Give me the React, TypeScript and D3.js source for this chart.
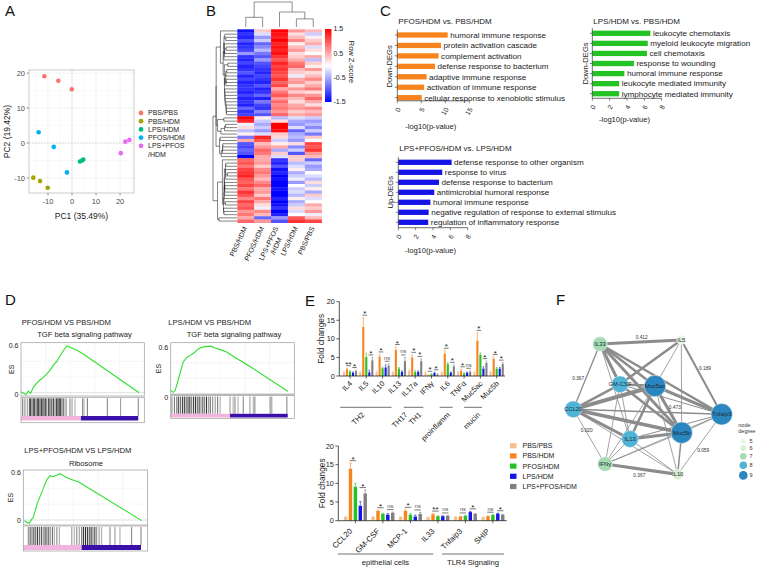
import React from "react";
import * as d3 from "d3";

const FONT = "'Liberation Sans', Arial, Helvetica, sans-serif";
const INK = "#1a1a1a";

/* ---------------- A: PCA ---------------- */
const pcaGroups = ["PBS/PBS", "PBS/HDM", "LPS/HDM", "PFOS/HDM", "LPS+PFOS/HDM"];
const pcaColors = ["#F8766D", "#A3A500", "#00BF7D", "#00B0F6", "#E76BF3"];
const pcaPC1 = [[-11.5, -5.7, -0.1], [-16.1, -13.3, -10.1], [3.3, 4.2, 4.7], [-13.9, -7.6, -2.1], [20.3, 22.2, 23.9]];
const pcaPC2 = [[19.1, 17.8, 15.4], [-9.9, -10.9, -12.8], [-5.3, -5.0, -4.7], [3.1, -1.1, -8.4], [-2.9, 0.4, 0.9]];
const pcaTicks = [-10, 0, 10, 20];
const pcaMinor = [-15, -5, 5, 15, 25];

/* ---------------- B: heatmap ---------------- */
const heatCols = ["PBS/HDM", "PFOS/HDM", "LPS+PFOS/HDM", "LPS/HDM", "PBS/PBS"];
const heatRows = [
  [-1.4, 0.3, 1.5, 0.6, 0.4], [-1.2, -0.2, 1.4, 0.2, -0.3], [-1.3, -0.6, 1.3, 0.4, 0.1], [-1.0, -0.3, 1.5, 0.7, 0.3],
  [-1.3, -0.9, 1.3, 0.1, 0.5], [-1.2, -0.7, 1.4, 0.4, -0.2], [-1.1, -0.4, 1.3, 0.6, 0.2], [-0.6, -0.8, 1.4, 0.2, 0.0],
  [-1.2, -1.0, 1.2, 0.3, 0.5], [-1.3, -0.6, 1.0, 0.5, -0.4], [-1.1, -1.0, 1.3, 0.8, 0.3], [-1.3, -1.1, 1.1, 0.9, 0.1],
  [-1.2, -1.2, 1.2, 0.4, 0.6], [-1.0, -1.3, 1.1, 0.3, 0.2], [-1.3, -1.1, 1.0, -0.1, 0.4], [-1.1, -1.2, 1.2, 0.5, 0.7],
  [-1.3, -1.3, 0.9, 0.6, 0.3], [-1.2, -1.0, 1.1, 0.2, 0.5], [-1.2, -1.3, 0.5, 0.6, 0.8], [-1.3, -1.2, 0.8, 0.3, 0.2],
  [-1.1, -0.9, 1.0, 0.7, 0.6], [-1.3, -1.3, 0.6, 0.4, 0.9], [-1.2, -0.8, 0.9, 0.2, 0.5], [-1.3, -1.1, 0.7, 0.5, 0.2],
  [-0.9, -1.2, 0.8, 0.6, 0.7], [-1.2, -0.7, 0.6, 0.3, 0.4], [-1.1, -1.0, 0.9, 0.5, 0.6],
  [1.5, 0.1, -0.4, -0.2, -0.3], [1.3, -0.3, 0.2, -0.5, -0.6],
  [-0.1, -0.5, 1.5, -0.6, -0.4], [0.2, -0.3, 1.5, -0.2, -0.7], [-0.4, -0.6, 1.4, -0.9, -0.3], [0.1, -0.2, 0.3, -0.5, -0.8],
  [-0.8, 1.3, 0.2, -0.4, 0.3], [0.5, 1.0, -0.3, -0.6, 0.0], [-1.0, 0.4, 0.1, 0.2, 1.1], [-1.1, 0.6, 0.5, -0.7, 1.0],
  [-0.9, 0.9, -0.5, -0.3, 1.2], [-1.0, 0.8, 0.3, -1.0, 0.6], [-1.5, 0.5, -0.2, 0.3, 0.4],
  [0.9, 0.5, -1.2, 0.3, -0.9], [1.0, 0.6, -1.3, -0.4, -0.3], [0.8, 0.3, -1.0, -0.2, -0.6], [1.1, 0.7, -1.4, 0.1, -0.5],
  [1.2, 0.8, -1.3, -0.5, 0.0], [1.3, 0.6, -1.5, -0.3, -0.2], [1.0, 0.4, -1.4, -0.1, -0.4], [0.9, 0.7, -1.5, -0.6, 0.2],
  [1.1, 0.9, -1.5, 0.0, -0.3], [0.8, 0.5, -1.4, -0.3, 0.1], [1.2, 0.6, -1.5, -0.2, -0.5], [1.0, 0.3, -1.5, -0.4, 0.3],
  [0.7, 0.8, -1.3, 0.1, -0.2], [1.1, 0.5, -1.5, -0.5, 0.0], [0.9, 0.2, -1.4, -0.3, 0.5], [1.0, -0.1, -1.2, 0.2, 0.3],
  [0.6, 0.7, -1.5, -0.2, 0.6], [0.8, 0.4, -1.3, 0.0, -0.1], [0.5, -0.9, -0.6, 1.0, 0.4], [0.9, 0.6, -1.0, 1.2, 1.1],
];
const colTree: any = { h: 4.0, children: [{ h: 1.55, children: ["PBS/HDM", "PFOS/HDM"] }, { h: 2.4, children: ["LPS+PFOS/HDM", { h: 1.3, children: ["LPS/HDM", "PBS/PBS"] }] }] };
const zTicks = [1.5, 0.5, -0.5, -1.5];

/* ---------------- C: GO bars ---------------- */
const goC1Terms = ["humoral immune response", "protein activation cascade", "complement activation", "defense response to bacterium", "adaptive immune response", "activation of immune response", "cellular response to xenobiotic stimulus"];
const goC1Values = [10.5, 9.1, 8.6, 7.85, 6.1, 5.6, 5.1];
const goC1Ticks = [0, 5, 10, 15];
const goC2Terms = ["leukocyte chemotaxis", "myeloid leukocyte migration", "cell chemotaxis", "response to wounding", "humoral immune response", "leukocyte mediated immunity", "lymphocyte mediated immunity"];
const goC2Values = [6.7, 6.4, 6.3, 4.8, 3.7, 3.1, 3.1];
const goC3Terms = ["defense response to other organism", "response to virus", "defense response to bacterium", "antimicrobial humoral response", "humoral immune response", "negative regulation of response to external stimulus", "regulation of inflammatory response"];
const goC3Values = [6.15, 5.07, 4.7, 4.15, 3.7, 3.5, 3.45];
const goSmallTicks = [0, 2, 4, 6, 8];

/* ---------------- D: GSEA ---------------- */
const gsea1F = [0, 0.024, 0.041, 0.059, 0.078, 0.1, 0.127, 0.154, 0.181, 0.208, 0.235, 0.262, 0.289, 0.316, 0.343, 0.37, 0.411, 0.451, 0.505, 0.959];
const gsea1ES = [0.013, -0.009, -0.026, 0.021, -0.009, 0.068, 0.119, 0.162, 0.196, 0.238, 0.289, 0.349, 0.396, 0.468, 0.536, 0.596, 0.57, 0.545, 0.494, 0.0];
const gsea1Hits = [0.014, 0.032, 0.051, 0.068, 0.078, 0.089, 0.1, 0.111, 0.122, 0.132, 0.143, 0.154, 0.165, 0.176, 0.186, 0.197, 0.208, 0.222, 0.235, 0.249, 0.262, 0.276, 0.289, 0.3, 0.311, 0.322, 0.332, 0.343, 0.357, 0.37, 0.397, 0.414, 0.438, 0.5, 0.511, 0.538, 0.7, 0.808, 0.951];
const gsea1Shade = [0.6, 0.5, 0.4, 0.7, 0.9, 0.6, 0.8, 0.9, 0.5, 0.85, 0.9, 0.7, 0.95, 0.6, 0.8, 0.9, 0.5, 0.85, 0.9, 0.7, 0.95, 0.6, 0.9, 1, 0.8, 0.95, 0.5, 0.7, 0.4, 0.3, 0.5, 0.4, 0.3, 0.5, 0.3, 0.6, 0.5, 0.4, 0.5];
const gsea2F = [0, 0.021, 0.035, 0.049, 0.075, 0.102, 0.129, 0.156, 0.183, 0.21, 0.237, 0.264, 0.304, 0.326, 0.358, 0.399, 0.453, 0.534, 0.642, 0.947];
const gsea2ES = [0.04, 0.015, 0.035, 0.11, 0.26, 0.41, 0.465, 0.495, 0.52, 0.56, 0.59, 0.605, 0.612, 0.615, 0.59, 0.57, 0.54, 0.455, 0.35, 0.03];
const gsea2Hits = [0.01, 0.03, 0.05, 0.065, 0.08, 0.095, 0.11, 0.125, 0.14, 0.155, 0.17, 0.185, 0.2, 0.215, 0.23, 0.245, 0.26, 0.275, 0.29, 0.305, 0.32, 0.34, 0.36, 0.38, 0.4, 0.48, 0.505, 0.52, 0.545, 0.587, 0.641, 0.668, 0.681, 0.804, 0.818, 0.94];
const gsea2Shade = [0.5, 0.6, 0.7, 0.9, 0.6, 0.85, 0.95, 0.7, 0.9, 1, 0.6, 0.85, 0.95, 0.7, 0.9, 0.5, 0.8, 0.6, 0.9, 0.4, 0.7, 0.5, 0.4, 0.6, 0.3, 0.4, 0.3, 0.5, 0.3, 0.5, 0.4, 0.3, 0.5, 0.5, 0.4, 0.5];
const gsea3F = [0.008, 0.027, 0.048, 0.067, 0.08, 0.094, 0.113, 0.134, 0.161, 0.188, 0.215, 0.241, 0.268, 0.295, 0.335, 0.375, 0.416, 0.442, 0.952];
const gsea3ES = [-0.008, -0.029, -0.042, 0.008, 0.034, 0.105, 0.21, 0.294, 0.398, 0.503, 0.558, 0.545, 0.562, 0.583, 0.545, 0.516, 0.495, 0.482, -0.008];
const gsea3Hits = [0.04, 0.055, 0.07, 0.085, 0.1, 0.115, 0.13, 0.145, 0.16, 0.175, 0.19, 0.205, 0.22, 0.235, 0.25, 0.27, 0.29, 0.39, 0.41, 0.43, 0.45, 0.47, 0.485, 0.5, 0.515, 0.53, 0.545, 0.56, 0.575, 0.59, 0.61, 0.63, 0.697, 0.737, 0.777, 0.871, 0.946];
const gsea3Shade = [0.5, 0.8, 0.6, 0.9, 0.7, 0.95, 0.6, 0.85, 0.5, 0.9, 0.7, 0.8, 0.4, 0.6, 0.3, 0.5, 0.3, 0.4, 0.3, 0.5, 0.4, 0.7, 1, 0.9, 0.95, 0.8, 1, 0.6, 0.9, 0.5, 0.4, 0.3, 0.5, 0.4, 0.3, 0.5, 0.5];

/* ---------------- E: fold changes ---------------- */
const eSeries = ["PBS/PBS", "PBS/HDM", "PFOS/HDM", "LPS/HDM", "LPS+PFOS/HDM"];
const eColors = ["#F5BF8E", "#F7841C", "#22C322", "#1515E8", "#808080"];
const e1Cats = ["IL4", "IL5", "IL10", "IL13", "IL17a", "IFNγ", "IL6", "TNFα", "Muc5ac", "Muc5b"];
const e1Mean = [
  [1, 1, 1, 1, 1.5, 1, 1, 1, 1, 1],
  [1.8, 13.2, 5.2, 7.0, 5.0, 0.2, 6.0, 1.4, 9.5, 4.6],
  [1.2, 5.1, 2.1, 2.0, 1.1, 0.5, 3.2, 0.7, 5.7, 2.0],
  [0.9, 1.0, 2.3, 1.1, 1.1, 0.8, 0.9, 0.9, 2.0, 2.0],
  [1.3, 4.2, 2.8, 4.0, 4.0, 0.4, 2.6, 1.1, 3.5, 3.2],
];
const e1Err = [
  [0.3, 0.3, 0.3, 0.3, 0.4, 0.3, 0.3, 0.3, 0.3, 0.3],
  [0.3, 2.5, 0.6, 0.8, 0.7, 0.1, 0.8, 0.4, 2.1, 0.5],
  [0.2, 1.0, 0.3, 0.3, 0.3, 0.1, 0.4, 0.2, 0.5, 0.3],
  [0.2, 0.6, 0.7, 0.3, 0.3, 0.2, 0.2, 0.2, 0.5, 0.3],
  [0.3, 0.8, 0.5, 1.0, 0.6, 0.2, 0.4, 0.3, 0.5, 0.4],
];
const e1SigLeft = ["**", "*", "*", "*", "*", "*", "*", "*", "*", "*"];
const e1SigRight = ["*", "*", "ns", "ns", "*", "*", "*", "ns", "*", "*"];
const e1Lines = [{ from: -0.6, to: 2.55 }, { from: 3.3, to: 4.5 }, { from: 5.5, to: 6.3 }, { from: 7.0, to: 8.1 }];
const e1GroupLabels = [{ text: "TH2", at: 0.85 }, { text: "TH17", at: 3.5 }, { text: "TH1", at: 4.35 }, { text: "proinflamm", at: 6.1 }, { text: "mucin", at: 7.95 }];
const e2Cats = ["CCL20", "GM-CSF", "MCP-1", "IL33", "Tnfaip3", "SHIP"];
const e2Mean = [
  [1.0, 1.0, 1.0, 0.9, 1.0, 0.9],
  [13.9, 2.6, 2.6, 1.7, 1.1, 1.2],
  [9.1, 1.8, 1.6, 1.2, 1.3, 1.5],
  [4.0, 1.6, 1.1, 1.2, 2.3, 1.9],
  [7.3, 2.1, 1.8, 1.3, 1.8, 1.6],
];
const e2Err = [
  [0.2, 0.1, 0.1, 0.1, 0.1, 0.1],
  [1.5, 0.2, 0.3, 0.2, 0.1, 0.1],
  [0.9, 0.2, 0.3, 0.1, 0.1, 0.1],
  [1.1, 0.3, 0.4, 0.1, 0.2, 0.1],
  [0.9, 0.2, 0.4, 0.1, 0.1, 0.1],
];
const e2SigLeft = ["*", "*", "*", "**", "ns", "ns"];
const e2SigRight = ["*", "ns", "ns", "ns", "*", "*"];
const e2Groups = [{ text: "epithelial cells", from: -0.64, to: 2.83 }, { text: "TLR4 Signaling", from: 3.15, to: 5.4 }];
const eTicks = [0, 5, 10, 15, 20];

/* ---------------- F: network ---------------- */
const netNodes = ["IL33", "IL5", "GM-CSF", "Muc5ac", "CCL20", "Tnfaip3", "Muc5b", "IL13", "IFNγ", "IL10"];
const netX = [26.7, 108, 46.7, 81.7, 0, 148.4, 108.4, 56.7, 31.7, 104.4];
const netY = [4, 0, 44.3, 46, 69.3, 74.3, 92.7, 99, 124, 134.3];
const netEdges: [string, string, number][] = [
  ["Muc5ac", "CCL20", 1.0], ["IL33", "IL5", 0.75], ["IFNγ", "IL10", 0.8], ["IL33", "GM-CSF", 0.75], ["IL33", "Muc5ac", 0.62],
  ["IL33", "Muc5b", 0.72], ["IL33", "Tnfaip3", 0.62], ["IL33", "CCL20", 0.33], ["IL33", "IL13", 0.2], ["IL5", "GM-CSF", 0.62],
  ["IL5", "Muc5ac", 0.2], ["IL5", "Muc5b", 0.2], ["IL5", "Tnfaip3", 0.5], ["GM-CSF", "CCL20", 0.62], ["GM-CSF", "Muc5ac", 0.62],
  ["GM-CSF", "Muc5b", 0.62], ["GM-CSF", "Tnfaip3", 0.25], ["GM-CSF", "IFNγ", 0.2], ["GM-CSF", "IL13", 0.2], ["Muc5ac", "Muc5b", 0.75],
  ["Muc5ac", "Tnfaip3", 0.75], ["Muc5ac", "IL13", 0.62], ["Muc5ac", "IFNγ", 0.2], ["Muc5ac", "IL10", 0.2], ["CCL20", "Tnfaip3", 0.38],
  ["CCL20", "Muc5b", 0.88], ["CCL20", "IL13", 0.75], ["CCL20", "IFNγ", 0.2], ["CCL20", "IL10", 0.2], ["Tnfaip3", "Muc5b", 0.25],
  ["Tnfaip3", "IL13", 0.25], ["Tnfaip3", "IFNγ", 0.2], ["Tnfaip3", "IL10", 0.2], ["Muc5b", "IL13", 0.75], ["Muc5b", "IL10", 0.38],
  ["Muc5b", "IFNγ", 0.2], ["IL13", "IFNγ", 0.2], ["IL13", "IL10", 0.2],
];
const netEdgeLabels: [string, string, string, number, number][] = [
  ["IL33", "IL5", "0.412", 1, -5], ["IL33", "CCL20", "0.367", -8.5, 1.5], ["IL5", "Tnfaip3", "0.189", 3.5, -9],
  ["Muc5ac", "Muc5b", "0.473", 6.5, -2.5], ["CCL20", "IFNγ", "0.020", -2.5, -6.5], ["Tnfaip3", "IL10", "0.059", 3.5, 6.5],
  ["IFNγ", "IL10", "0.367", -2, 6],
];
const degreeLevels = [5, 6, 7, 8, 9];
const degreeColors = ["#e6f5e1", "#d6efd0", "#a4dbb3", "#4fb3d6", "#2b86bf"];
const degreeRadius = [4.6, 5.2, 7.3, 8.4, 10.7];

/* ======================= components ======================= */

function PanelA() {
  const L = 29, R = 134, T = 70, B = 193;
  const x = d3.scaleLinear().domain([-17.9, 25.8]).range([L, R]);
  const y = d3.scaleLinear().domain([-14.3, 20.9]).range([B, T]);
  const inX = (v: number) => v >= -17.9 && v <= 25.8;
  const inY = (v: number) => v >= -14.3 && v <= 20.9;
  return (
    <g>
      <rect x={L} y={T} width={R - L} height={B - T} fill="#fff" />
      {pcaMinor.filter(inX).map((v) => <line key={"mx" + v} x1={x(v)} x2={x(v)} y1={T} y2={B} stroke="#f4f4f4" strokeWidth={0.5} />)}
      {pcaMinor.filter(inY).map((v) => <line key={"my" + v} y1={y(v)} y2={y(v)} x1={L} x2={R} stroke="#f4f4f4" strokeWidth={0.5} />)}
      {pcaTicks.map((v) => <line key={"gx" + v} x1={x(v)} x2={x(v)} y1={T} y2={B} stroke="#ebebeb" strokeWidth={0.6} />)}
      {pcaTicks.map((v) => <line key={"gy" + v} y1={y(v)} y2={y(v)} x1={L} x2={R} stroke="#ebebeb" strokeWidth={0.6} />)}
      <line x1={x(0)} x2={x(0)} y1={T} y2={B} stroke="#c8c8c8" strokeWidth={0.6} strokeDasharray="1.5,1.5" />
      <line y1={y(0)} y2={y(0)} x1={L} x2={R} stroke="#c8c8c8" strokeWidth={0.6} strokeDasharray="1.5,1.5" />
      <rect x={L} y={T} width={R - L} height={B - T} fill="none" stroke="#b5b5b5" strokeWidth={0.7} />
      {pcaGroups.map((g, gi) => pcaPC1[gi].map((v, i) => (
        <circle key={g + i} cx={x(v)} cy={y(pcaPC2[gi][i])} r={2.3} fill={pcaColors[gi]} />
      )))}
      {pcaTicks.map((v) => (
        <g key={"tx" + v}>
          <line x1={x(v)} x2={x(v)} y1={B} y2={B + 2.5} stroke="#555" strokeWidth={0.6} />
          <text x={x(v)} y={B + 10.5} textAnchor="middle" fontSize={7.5} fill="#4d4d4d">{v}</text>
        </g>
      ))}
      {pcaTicks.map((v) => (
        <g key={"ty" + v}>
          <line x1={L - 2.5} x2={L} y1={y(v)} y2={y(v)} stroke="#555" strokeWidth={0.6} />
          <text x={L - 4} y={y(v)} dy="0.35em" textAnchor="end" fontSize={7.5} fill="#4d4d4d">{v}</text>
        </g>
      ))}
      <text x={(L + R) / 2} y={218.5} textAnchor="middle" fontSize={8.5} fill={INK}>PC1 (35.49%)</text>
      <text transform={`translate(9.5,${(T + B) / 2}) rotate(-90)`} textAnchor="middle" fontSize={8.5} fill={INK}>PC2 (19.42%)</text>
      {pcaGroups.map((g, i) => {
        const cy = 113 + i * 8.2;
        const parts = g === "LPS+PFOS/HDM" ? ["LPS+PFOS", "/HDM"] : [g];
        return (
          <g key={"lg" + g}>
            <circle cx={141} cy={cy} r={2.4} fill={pcaColors[i]} />
            {parts.map((p, j) => (
              <text key={p} x={148} y={cy + j * 8.5} dy="0.35em" fontSize={7} fill={INK}>{p}</text>
            ))}
          </g>
        );
      })}
    </g>
  );
}

type HNode = { lo: number; hi: number; h: number; members: number[]; left?: HNode; right?: HNode };
function buildRowTree(rows: number[][]): HNode {
  const dist = (i: number, j: number) => Math.sqrt(d3.sum(rows[i], (v: number, k: number) => (v - rows[j][k]) ** 2));
  const clusters: HNode[] = rows.map((_, i) => ({ lo: i, hi: i, h: 0, members: [i] }));
  const link = (a: HNode, b: HNode) => {
    let s = 0;
    for (const i of a.members) for (const j of b.members) s += dist(i, j);
    return s / (a.members.length * b.members.length);
  };
  while (clusters.length > 1) {
    let best = 0, bd = Infinity;
    for (let k = 0; k < clusters.length - 1; k++) {
      const d = link(clusters[k], clusters[k + 1]);
      if (d < bd) { bd = d; best = k; }
    }
    const a = clusters[best], b = clusters[best + 1];
    clusters.splice(best, 2, { lo: a.lo, hi: b.hi, h: Math.max(bd, a.h, b.h) + 0.02, members: a.members.concat(b.members), left: a, right: b });
  }
  return clusters[0];
}

function PanelB() {
  const x = d3.scaleBand<string>().domain(heatCols).range([237.3, 321.7]);
  const y = d3.scaleBand<number>().domain(d3.range(heatRows.length)).range([29.3, 222.7]);
  const color = d3.scaleLinear<string>().domain([-1.5, 0, 1.5]).range(["#0000ff", "#ffffff", "#ff0000"]).clamp(true);
  const tree = React.useMemo(() => buildRowTree(heatRows), []);
  const dx = d3.scalePow().exponent(0.45).domain([0, tree.h]).range([237, 213]);
  let rowPath = "";
  const walk = (n: HNode): number => {
    if (!n.left || !n.right) return (y(n.lo) as number) + y.bandwidth() / 2;
    const ya = walk(n.left), yb = walk(n.right);
    const xh = dx(n.h);
    rowPath += `M${dx(n.left.h)},${ya}H${xh}V${yb}H${dx(n.right.h)}`;
    return (ya + yb) / 2;
  };
  walk(tree);
  const cy = d3.scaleLinear().domain([0, 4]).range([27, 2]);
  let colPath = "";
  const cwalk = (n: any): [number, number] => {
    if (typeof n === "string") return [(x(n) as number) + x.bandwidth() / 2, 0];
    const [xa, ha] = cwalk(n.children[0]);
    const [xb, hb] = cwalk(n.children[1]);
    colPath += `M${xa},${cy(ha)}V${cy(n.h)}H${xb}V${cy(hb)}`;
    return [(xa + xb) / 2, n.h];
  };
  cwalk(colTree);
  const zs = d3.scaleLinear().domain([1.5, -1.5]).range([29, 102]);
  return (
    <g>
      <defs>
        <linearGradient id="zgrad" x1="0" y1="0" x2="0" y2="1">
          <stop offset="0%" stopColor="#ff0000" />
          <stop offset="50%" stopColor="#ffffff" />
          <stop offset="100%" stopColor="#0000ff" />
        </linearGradient>
      </defs>
      {heatRows.map((row, i) => row.map((v, j) => (
        <rect key={i + "-" + j} x={x(heatCols[j])} y={y(i)} width={x.bandwidth() + 0.2} height={y.bandwidth() + 0.3} fill={color(v)} />
      )))}
      <path d={rowPath} fill="none" stroke="#1a1a1a" strokeWidth={0.55} />
      <path d={colPath} fill="none" stroke="#444" strokeWidth={0.6} />
      {heatCols.map((c) => {
        const cx = (x(c) as number) + x.bandwidth() / 2;
        if (c === "LPS+PFOS/HDM") {
          return (
            <g key={c}>
              <text transform={`translate(${cx - 1},${228}) rotate(-65)`} textAnchor="end" fontSize={7} fill={INK}>LPS+PFOS</text>
              <text transform={`translate(${cx + 2.5},${239}) rotate(-65)`} textAnchor="end" fontSize={7} fill={INK}>/HDM</text>
            </g>
          );
        }
        return <text key={c} transform={`translate(${cx + 1.5},${228}) rotate(-65)`} textAnchor="end" fontSize={7} fill={INK}>{c}</text>;
      })}
      <rect x={325} y={29} width={6.5} height={73} fill="url(#zgrad)" />
      {zTicks.map((t) => (
        <text key={t} x={333.5} y={zs(t)} dy="0.35em" fontSize={7} fill={INK}>{t}</text>
      ))}
      <text transform="translate(349,62) rotate(90)" textAnchor="middle" fontSize={7.5} fill={INK}>Row Z-score</text>
    </g>
  );
}

function GoPanel(p: any) {
  const n = p.terms.length;
  const y = d3.scaleBand<string>().domain(p.terms).range([p.firstY - p.step / 2, p.firstY - p.step / 2 + p.step * n]);
  const maxT = p.ticks[p.ticks.length - 1];
  const x = d3.scaleLinear().domain([0, maxT]).range([p.axisX, p.axisX + maxT * p.unitPx]);
  const bh = 5.3;
  const centers = p.terms.map((t: string) => (y(t) as number) + y.bandwidth() / 2);
  return (
    <g>
      <text x={p.axisX + 1} y={p.titleY} fontSize={8} fill={INK}>{p.title}</text>
      {p.terms.map((t: string, i: number) => (
        <g key={t}>
          <rect x={x(0)} y={centers[i] - bh / 2} width={x(p.values[i]) - x(0)} height={bh} fill={p.color} />
          <line x1={p.axisX - 2.5} x2={p.axisX} y1={centers[i]} y2={centers[i]} stroke="#333" strokeWidth={0.6} />
          <text x={x(p.values[i]) + 2.5} y={centers[i]} dy="0.35em" fontSize={8.1} fill={INK}>{t}</text>
        </g>
      ))}
      <line x1={p.axisX} x2={p.axisX} y1={p.lineTop} y2={p.axisY} stroke="#333" strokeWidth={0.7} />
      <line x1={p.axisX} x2={x(maxT)} y1={p.axisY} y2={p.axisY} stroke="#333" strokeWidth={0.7} />
      {p.ticks.map((t: number) => (
        <g key={t}>
          <line x1={x(t)} x2={x(t)} y1={p.axisY} y2={p.axisY + 2.5} stroke="#333" strokeWidth={0.6} />
          <text transform={`translate(${x(t) + 1.5},${p.axisY + 7.3}) rotate(-60)`} textAnchor="end" dy="0.35em" fontSize={6.8} fill={INK}>{t}</text>
        </g>
      ))}
      <text x={(x(0) + x(maxT)) / 2 - 2.5} y={p.xlabY} textAnchor="middle" fontSize={7.6} fill={INK}>-log10(p-value)</text>
      <text transform={`translate(${p.ylabX},${(centers[0] + centers[n - 1]) / 2}) rotate(-90)`} textAnchor="middle" fontSize={7.6} fill={INK}>{p.ylab}</text>
    </g>
  );
}

function PanelC() {
  return (
    <g>
      <GoPanel terms={goC1Terms} values={goC1Values} color="#F7841C" ticks={goC1Ticks} axisX={397.3} firstY={35} step={10.45} unitPx={4.8} axisY={100.8} lineTop={29.5} title="PFOS/HDM vs. PBS/HDM" titleY={23.5} ylab="Down-DEGs" ylabX={391.5} xlabY={128.5} />
      <GoPanel terms={goC2Terms} values={goC2Values} color="#22C322" ticks={goSmallTicks} axisX={592.3} firstY={33.3} step={10.07} unitPx={8.67} axisY={98.3} lineTop={28} title="LPS/HDM vs. PBS/HDM" titleY={23.5} ylab="Down-DEGs" ylabX={588} xlabY={121.5} />
      <GoPanel terms={goC3Terms} values={goC3Values} color="#1414E6" ticks={goSmallTicks} axisX={398.3} firstY={162.3} step={10} unitPx={8.67} axisY={227.7} lineTop={157} title="LPS+PFOS/HDM vs. LPS/HDM" titleY={151} ylab="Up-DEGs" ylabX={392.5} xlabY={252.5} />
    </g>
  );
}

function Gsea(p: any) {
  const x = d3.scaleLinear().domain([0, 1]).range([p.x0, p.x1]);
  const y = d3.scaleLinear().domain([0, 0.6]).range([p.zeroY, p.sixY]);
  const line = d3.line<number>().x((d) => x(d)).y((_, i) => y(p.es[i]));
  const shade = d3.scaleLinear<string>().domain([0, 1]).range(["#e0e0e0", "#000000"]);
  return (
    <g>
      <text x={p.titleX} y={p.titleY} fontSize={7.6} fill={INK}>{p.title}</text>
      <text x={p.subX} y={p.subY} textAnchor="middle" fontSize={7.6} fill={INK}>{p.subtitle}</text>
      <rect x={p.x0} y={p.esTop} width={p.x1 - p.x0} height={p.esBottom - p.esTop} fill="#fff" />
      {[0.2, 0.4, 0.6, 0.8].map((f) => <line key={"v" + f} x1={x(f)} x2={x(f)} y1={p.esTop} y2={p.esBottom} stroke="#ececec" strokeWidth={0.5} />)}
      {[0.2, 0.4].map((e) => <line key={"h" + e} x1={p.x0} x2={p.x1} y1={y(e)} y2={y(e)} stroke="#ececec" strokeWidth={0.5} />)}
      <line x1={p.x0} x2={p.x1} y1={y(0)} y2={y(0)} stroke="#cfcfcf" strokeWidth={0.6} />
      <path d={line(p.f) || ""} fill="none" stroke="#2fe02f" strokeWidth={1.1} />
      <rect x={p.x0} y={p.esTop} width={p.x1 - p.x0} height={p.esBottom - p.esTop} fill="none" stroke="#9a9a9a" strokeWidth={0.7} />
      {p.hits.map((h: number, i: number) => (
        <line key={"b" + i} x1={x(h)} x2={x(h)} y1={p.bcTop + 1} y2={p.cbTop} stroke={shade(p.shade[i])} strokeWidth={0.9} />
      ))}
      <rect x={x(0)} y={p.cbTop} width={x(p.pinkEnd) - x(0)} height={p.cbBottom - p.cbTop} fill="#f2b3dc" />
      <rect x={x(p.pinkEnd)} y={p.cbTop} width={x(p.purpleEnd) - x(p.pinkEnd)} height={p.cbBottom - p.cbTop} fill="#3b10aa" />
      <rect x={p.x0} y={p.bcTop} width={p.x1 - p.x0} height={p.boxBottom - p.bcTop} fill="none" stroke="#9a9a9a" strokeWidth={0.7} />
      <text x={p.x0 - 2.5} y={y(0.6)} dy="0.35em" textAnchor="end" fontSize={7} fill={INK}>0.6</text>
      <text x={p.x0 - 2.5} y={p.zeroLabelY} dy="0.35em" textAnchor="end" fontSize={7} fill={INK}>0</text>
      <text transform={`translate(${p.esX},${(p.esTop + p.esBottom) / 2}) rotate(-90)`} textAnchor="middle" fontSize={7} fill={INK}>ES</text>
    </g>
  );
}

function PanelD() {
  return (
    <g>
      <Gsea title="PFOS/HDM VS PBS/HDM" titleX={21.7} titleY={324.5} subtitle="TGF beta signaling pathway" subX={84.5} subY={337}
        x0={21} x1={144.3} esTop={342.7} esBottom={396} zeroY={392.7} sixY={345.7} zeroLabelY={395} bcTop={397.3} cbTop={416} cbBottom={420.5} boxBottom={422.7}
        f={gsea1F} es={gsea1ES} hits={gsea1Hits} shade={gsea1Shade} pinkEnd={0.486} purpleEnd={0.951} esX={14} />
      <Gsea title="LPS/HDM VS PBS/HDM" titleX={168.3} titleY={324.5} subtitle="TGF beta signaling pathway" subX={234} subY={337}
        x0={170.7} x1={294.3} esTop={342.7} esBottom={394.5} zeroY={393.5} sixY={347.3} zeroLabelY={397.5} bcTop={395.5} cbTop={413.8} cbBottom={417.5} boxBottom={418.5}
        f={gsea2F} es={gsea2ES} hits={gsea2Hits} shade={gsea2Shade} pinkEnd={0.48} purpleEnd={0.947} esX={161} />
      <Gsea title="LPS+PFOS/HDM VS LPS/HDM" titleX={24.3} titleY={452.5} subtitle="Ribosome" subX={86} subY={466}
        x0={23.3} x1={147.7} esTop={470} esBottom={525} zeroY={520} sixY={472.3} zeroLabelY={521} bcTop={526} cbTop={545} cbBottom={550} boxBottom={551}
        f={gsea3F} es={gsea3ES} hits={gsea3Hits} shade={gsea3Shade} pinkEnd={0.469} purpleEnd={0.946} esX={13} />
    </g>
  );
}

function BarChart(p: any) {
  const n = p.cats.length;
  const gx = d3.scaleBand<string>().domain(p.cats).range([p.firstCenter - p.step / 2, p.firstCenter - p.step / 2 + p.step * n]);
  const center = (c: string) => (gx(c) as number) + gx.bandwidth() / 2;
  const idx = d3.scaleLinear().domain([0, 1]).range([p.firstCenter, p.firstCenter + p.step]);
  const inner = d3.scaleBand<string>().domain(eSeries).range([-p.innerHalf, p.innerHalf]).paddingInner(0.3).paddingOuter(0.3);
  const y = d3.scaleLinear().domain([0, 20]).range([p.zeroY, p.top20Y]);
  const bw = inner.bandwidth();
  const barC = (c: string, s: number) => center(c) + (inner(eSeries[s]) as number) + bw / 2;
  const sig = (c: string, ci: number, pair: number[], label: string, key: string) => {
    const top = d3.max(pair, (s) => p.mean[s][ci] + p.err[s][ci]) as number;
    const yy = y(top) - 2.5;
    const xa = barC(c, pair[0]) - 0.8, xb = barC(c, pair[1]) + 0.8;
    const isNs = label === "ns";
    return (
      <g key={key}>
        <line x1={xa} x2={xb} y1={yy} y2={yy} stroke="#222" strokeWidth={0.6} />
        <text x={(xa + xb) / 2} y={yy - (isNs ? 1.5 : -1)} textAnchor="middle" fontSize={isNs ? 5.8 : 8} fill={isNs ? "#555" : INK}>{label}</text>
      </g>
    );
  };
  return (
    <g>
      {p.cats.map((c: string, ci: number) => (
        <g key={c}>
          {eSeries.map((s, si) => {
            const v = p.mean[si][ci], e = p.err[si][ci];
            const bx = center(c) + (inner(s) as number);
            const mx = bx + bw / 2;
            return (
              <g key={s}>
                <rect x={bx} y={y(v)} width={bw} height={y(0) - y(v)} fill={eColors[si]} />
                <line x1={mx} x2={mx} y1={y(v)} y2={y(v + e)} stroke={eColors[si]} strokeWidth={0.6} />
                <line x1={mx - bw * 0.35} x2={mx + bw * 0.35} y1={y(v + e)} y2={y(v + e)} stroke={eColors[si]} strokeWidth={0.6} />
              </g>
            );
          })}
          {sig(c, ci, [1, 2], p.sigL[ci], "sl")}
          {sig(c, ci, [3, 4], p.sigR[ci], "sr")}
          <line x1={center(c)} x2={center(c)} y1={p.zeroY} y2={p.zeroY + 2.5} stroke="#222" strokeWidth={0.7} />
          <text transform={`translate(${center(c) + p.labelDx},${p.zeroY + p.labelDy}) rotate(-45)`} textAnchor="end" fontSize={p.labelFont} fill={INK}>{c}</text>
        </g>
      ))}
      <line x1={p.axisX} x2={p.axisX} y1={p.zeroY} y2={p.top20Y} stroke="#222" strokeWidth={0.8} />
      <line x1={p.axisX} x2={p.axisEnd} y1={p.zeroY} y2={p.zeroY} stroke="#222" strokeWidth={0.8} />
      {eTicks.map((t) => (
        <g key={t}>
          <line x1={p.axisX - 3} x2={p.axisX} y1={y(t)} y2={y(t)} stroke="#222" strokeWidth={0.7} />
          <text x={p.axisX - 4.5} y={y(t)} dy="0.35em" textAnchor="end" fontSize={7.3} fill={INK}>{t}</text>
        </g>
      ))}
      <text transform={`translate(${p.foldX},${(p.zeroY + p.top20Y) / 2}) rotate(-90)`} textAnchor="middle" fontSize={8.3} fill={INK}>Fold changes</text>
      {p.lines && p.lines.map((l: any, i: number) => (
        <line key={"gl" + i} x1={idx(l.from)} x2={idx(l.to)} y1={p.lineY} y2={p.lineY} stroke="#333" strokeWidth={0.7} />
      ))}
      {p.groupLabels && p.groupLabels.map((g: any) => (
        <text key={g.text} transform={`translate(${idx(g.at) + 1},${p.lineY + 8})  rotate(-45)`} textAnchor="end" fontSize={7.5} fill={INK}>{g.text}</text>
      ))}
      {p.groups && p.groups.map((g: any) => (
        <g key={g.text}>
          <line x1={idx(g.from)} x2={idx(g.to)} y1={p.lineY} y2={p.lineY} stroke="#333" strokeWidth={0.7} />
          <text x={(idx(g.from) + idx(g.to)) / 2} y={p.lineY + 11} textAnchor="middle" fontSize={7.6} fill={INK}>{g.text}</text>
        </g>
      ))}
    </g>
  );
}

function PanelE() {
  return (
    <g>
      <BarChart cats={e1Cats} mean={e1Mean} err={e1Err} sigL={e1SigLeft} sigR={e1SigRight} axisX={339.3} axisEnd={505} zeroY={376} top20Y={301.7}
        firstCenter={350} step={16.3} innerHalf={8} labelDx={2.7} labelDy={8} labelFont={7.5} foldX={324} lines={e1Lines} groupLabels={e1GroupLabels} lineY={407.3} />
      <BarChart cats={e2Cats} mean={e2Mean} err={e2Err} sigL={e2SigLeft} sigR={e2SigRight} axisX={338.3} axisEnd={506.7} zeroY={520.7} top20Y={446}
        firstCenter={355.4} step={27.5} innerHalf={13} labelDx={-2.7} labelDy={11} labelFont={7.8} foldX={324.5} groups={e2Groups} lineY={554} />
      {eSeries.map((s, i) => (
        <g key={s}>
          <rect x={510} y={445.7 + i * 10.2 - 2.6} width={6.5} height={5.2} fill={eColors[i]} />
          <text x={522.5} y={445.7 + i * 10.2} dy="0.35em" fontSize={7} fill={INK}>{s}</text>
        </g>
      ))}
    </g>
  );
}

function PanelF() {
  const sx = d3.scaleLinear().domain([0, 148.4]).range([573.3, 721.7]);
  const sy = d3.scaleLinear().domain([0, 134.3]).range([340, 474.3]);
  const deg: Record<string, number> = {};
  netNodes.forEach((n) => (deg[n] = 0));
  netEdges.forEach(([a, b]) => { deg[a]++; deg[b]++; });
  const col = d3.scaleOrdinal<number, string>().domain(degreeLevels).range(degreeColors);
  const rad = d3.scaleOrdinal<number, number>().domain(degreeLevels).range(degreeRadius);
  const w = d3.scaleLinear().domain([0, 1]).range([0, 4]);
  const pos = (n: string) => { const i = netNodes.indexOf(n); return [sx(netX[i]), sy(netY[i])]; };
  const lr = d3.scaleLinear().domain([5, 9]).range([2.3, 4.3]);
  let ly = 441;
  const legendY = degreeLevels.map((d, i) => { if (i > 0) ly += 2 + lr(d) + lr(degreeLevels[i - 1]); return ly; });
  return (
    <g>
      {netEdges.map(([a, b, wt], i) => {
        const [x1, y1] = pos(a), [x2, y2] = pos(b);
        return <line key={"e" + i} x1={x1} y1={y1} x2={x2} y2={y2} stroke="#8c8c8c" strokeWidth={w(wt)} strokeLinecap="round" />;
      })}
      {netEdgeLabels.map(([a, b, t, ox, oy], i) => {
        const [x1, y1] = pos(a), [x2, y2] = pos(b);
        return <text key={"el" + i} x={(x1 + x2) / 2 + ox} y={(y1 + y2) / 2 + oy} dy="0.35em" textAnchor="middle" fontSize={4.8} fill="#333">{t}</text>;
      })}
      {netNodes.map((n) => {
        const [cx, cy] = pos(n);
        return (
          <g key={n}>
            <circle cx={cx} cy={cy} r={rad(deg[n])} fill={col(deg[n])} stroke="#f2f2f2" strokeWidth={0.5} />
            <text x={cx} y={cy} dy="0.35em" textAnchor="middle" fontSize={5.8} fill="#1e2a33">{n}</text>
          </g>
        );
      })}
      <text x={738.3} y={427} fontSize={5.5} fill="#333">node</text>
      <text x={738.3} y={433} fontSize={5.5} fill="#333">degree</text>
      {degreeLevels.map((d, i) => (
        <g key={"dl" + d}>
          <circle cx={743.3} cy={legendY[i]} r={lr(d)} fill={col(d)} />
          <text x={749.5} y={legendY[i]} dy="0.35em" fontSize={5.5} fill="#333">{d}</text>
        </g>
      ))}
    </g>
  );
}

export default function App() {
  const letters: [string, number, number][] = [["A", 5, 15.5], ["B", 206, 16], ["C", 380, 15.5], ["D", 5, 305], ["E", 305, 306], ["F", 556, 305]];
  return (
    <svg width={757} height={570} viewBox="0 0 757 570" style={{ position: "absolute", left: 0, top: 0, display: "block" }} fontFamily={FONT}>
      <rect width={757} height={570} fill="#fff" />
      <PanelA />
      <PanelB />
      <PanelC />
      <PanelD />
      <PanelE />
      <PanelF />
      {letters.map(([t, x, y]) => (
        <text key={t} x={x} y={y} fontSize={15} fill="#111">{t}</text>
      ))}
    </svg>
  );
}
